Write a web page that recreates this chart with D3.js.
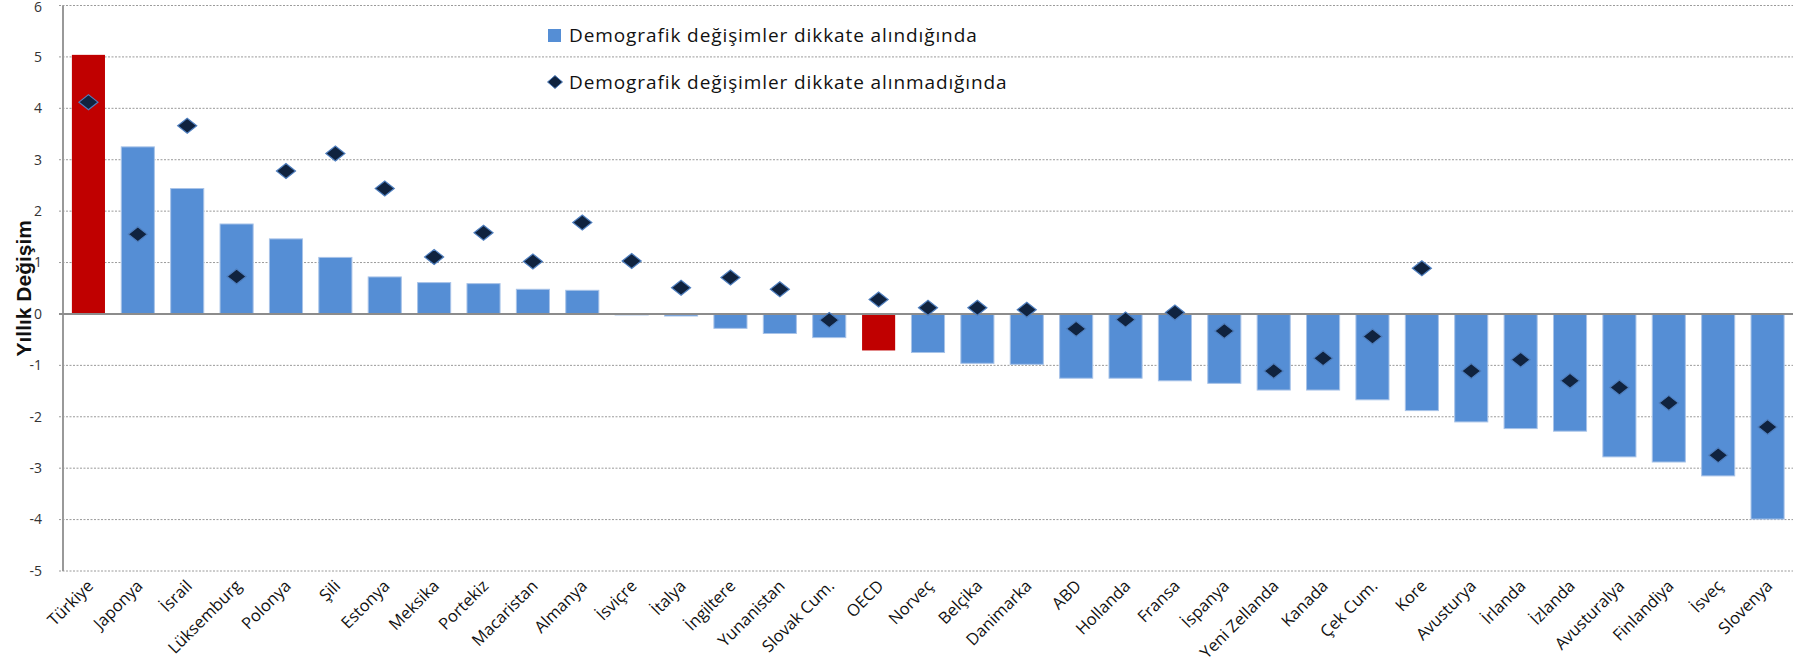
<!DOCTYPE html>
<html>
<head>
<meta charset="utf-8">
<script src="https://cdn.jsdelivr.net/npm/d3@7"></script>
<style>
  body { margin: 0; background: #fff; }
  svg { display: block; }
  .tick-label { font-family: "Open Sans", sans-serif; font-size: 14px; fill: #333; }
  .cat-label { font-family: "Open Sans", sans-serif; font-size: 16.5px; fill: #111; }
  .legend-text { font-family: "Open Sans", sans-serif; font-size: 19px; letter-spacing: 0.9px; fill: #111; }
  .axis-title { font-family: "Liberation Sans Narrow", "Liberation Sans", sans-serif; font-size: 21px; font-weight: bold; fill: #111; }
</style>
</head>
<body>
<svg id="chart" width="1812" height="662"></svg>
<script>
const categories = [
  "Türkiye", "Japonya", "İsrail", "Lüksemburg", "Polonya", "Şili", "Estonya",
  "Meksika", "Portekiz", "Macaristan", "Almanya", "İsviçre", "İtalya",
  "İngiltere", "Yunanistan", "Slovak Cum.", "OECD", "Norveç", "Belçika",
  "Danimarka", "ABD", "Hollanda", "Fransa", "İspanya", "Yeni Zellanda",
  "Kanada", "Çek Cum.", "Kore", "Avusturya", "İrlanda", "İzlanda",
  "Avusturalya", "Finlandiya", "İsveç", "Slovenya"
];

// Demografik değişimler dikkate alındığında (bars)
const withDemography = [
  5.04, 3.25, 2.44, 1.75, 1.46, 1.10, 0.72,
  0.61, 0.59, 0.48, 0.46, -0.02, -0.04,
  -0.28, -0.38, -0.46, -0.71, -0.75, -0.96,
  -0.98, -1.25, -1.25, -1.30, -1.35, -1.48,
  -1.48, -1.67, -1.88, -2.10, -2.23, -2.28,
  -2.78, -2.88, -3.15, -3.99
];

// Demografik değişimler dikkate alınmadığında (diamonds)
const withoutDemography = [
  4.12, 1.55, 3.66, 0.73, 2.78, 3.12, 2.44,
  1.11, 1.58, 1.02, 1.78, 1.03, 0.51,
  0.71, 0.48, -0.12, 0.28, 0.12, 0.12,
  0.08, -0.29, -0.11, 0.03, -0.33, -1.11,
  -0.86, -0.44, 0.89, -1.11, -0.89, -1.30,
  -1.43, -1.73, -2.75, -2.20
];

const highlighted = ["Türkiye", "OECD"];
const yTicks = [6, 5, 4, 3, 2, 1, 0, -1, -2, -3, -4, -5];

const legendLabels = [
  "Demografik değişimler dikkate alındığında",
  "Demografik değişimler dikkate alınmadığında"
];

const colors = {
  bar: "#558ed5",
  barEdge: "#a8c3e8",
  highlight: "#c00000",
  diamond: "#10233f",
  diamondEdge: "#4f7fbf",
  grid: "#9a9a9a",
  axis: "#999"
};

const margin = { left: 63, right: 19, top: 5.5, bottom: 91 };
const width = 1812, height = 662;
const svg = d3.select("#chart");

const x = d3.scaleBand()
  .domain(categories)
  .range([margin.left, width - margin.right])
  .paddingInner(0.33)
  .paddingOuter(0.18);

const y = d3.scaleLinear()
  .domain([-5, 6])
  .range([height - margin.bottom, margin.top]);

// gridlines
svg.append("g")
  .selectAll("line")
  .data(yTicks.filter((d) => d !== 0))
  .join("line")
  .attr("x1", margin.left - 4)
  .attr("x2", width - margin.right)
  .attr("y1", (d) => y(d))
  .attr("y2", (d) => y(d))
  .attr("stroke", colors.grid)
  .attr("stroke-width", 1)
  .attr("stroke-dasharray", "2,1.5");

// y axis line and tick labels
svg.append("line")
  .attr("x1", margin.left)
  .attr("x2", margin.left)
  .attr("y1", y(6))
  .attr("y2", y(-5))
  .attr("stroke", colors.axis)
  .attr("stroke-width", 2);

svg.append("g")
  .selectAll("text")
  .data(yTicks)
  .join("text")
  .attr("class", "tick-label")
  .attr("x", 42)
  .attr("y", (d) => Math.max(y(d), 7.5))
  .attr("dy", "0.35em")
  .attr("text-anchor", "end")
  .text((d) => d);

svg.append("text")
  .attr("class", "axis-title")
  .attr("transform", `translate(31, ${y(0.5)}) rotate(-90)`)
  .attr("text-anchor", "middle")
  .text("Yıllık Değişim");

// bars
svg.append("g")
  .selectAll("rect")
  .data(categories)
  .join("rect")
  .attr("x", (d) => x(d))
  .attr("width", x.bandwidth())
  .attr("y", (d, i) => y(Math.max(0, withDemography[i])))
  .attr("height", (d, i) => Math.abs(y(withDemography[i]) - y(0)))
  .attr("fill", (d) => (highlighted.includes(d) ? colors.highlight : colors.bar))
  .attr("stroke", (d) => (highlighted.includes(d) ? "none" : colors.barEdge))
  .attr("stroke-width", 1);

// zero line
svg.append("line")
  .attr("x1", margin.left - 4)
  .attr("x2", width - margin.right)
  .attr("y1", y(0))
  .attr("y2", y(0))
  .attr("stroke", "#8c8c8c")
  .attr("stroke-width", 2);

// diamonds
const diamondPath = (cx, cy, w, h) =>
  `M${cx - w},${cy} L${cx},${cy - h} L${cx + w},${cy} L${cx},${cy + h} Z`;

svg.append("g")
  .selectAll("path")
  .data(categories)
  .join("path")
  .attr("d", (d, i) =>
    diamondPath(x(d) + x.bandwidth() / 2, y(withoutDemography[i]), 9.5, 7.5))
  .attr("fill", colors.diamond)
  .attr("stroke", colors.diamondEdge)
  .attr("stroke-width", 1.2);

// category labels
svg.append("g")
  .selectAll("text")
  .data(categories)
  .join("text")
  .attr("class", "cat-label")
  .attr("text-anchor", "end")
  .attr("transform", (d) =>
    `translate(${x(d) + x.bandwidth() / 2 + 6}, ${y(-5) + 16}) rotate(-45)`)
  .text((d) => d);

// legend
const legend = svg.append("g").attr("transform", "translate(548, 0)");
legend.append("rect")
  .attr("x", 0)
  .attr("y", 29)
  .attr("width", 13)
  .attr("height", 13)
  .attr("fill", colors.bar);
legend.append("text")
  .attr("class", "legend-text")
  .attr("x", 21)
  .attr("y", 42)
  .text(legendLabels[0]);
legend.append("path")
  .attr("d", diamondPath(7, 82, 7.5, 6.5))
  .attr("fill", colors.diamond)
  .attr("stroke", colors.diamondEdge)
  .attr("stroke-width", 1);
legend.append("text")
  .attr("class", "legend-text")
  .attr("x", 21)
  .attr("y", 89)
  .text(legendLabels[1]);
</script>
</body>
</html>
